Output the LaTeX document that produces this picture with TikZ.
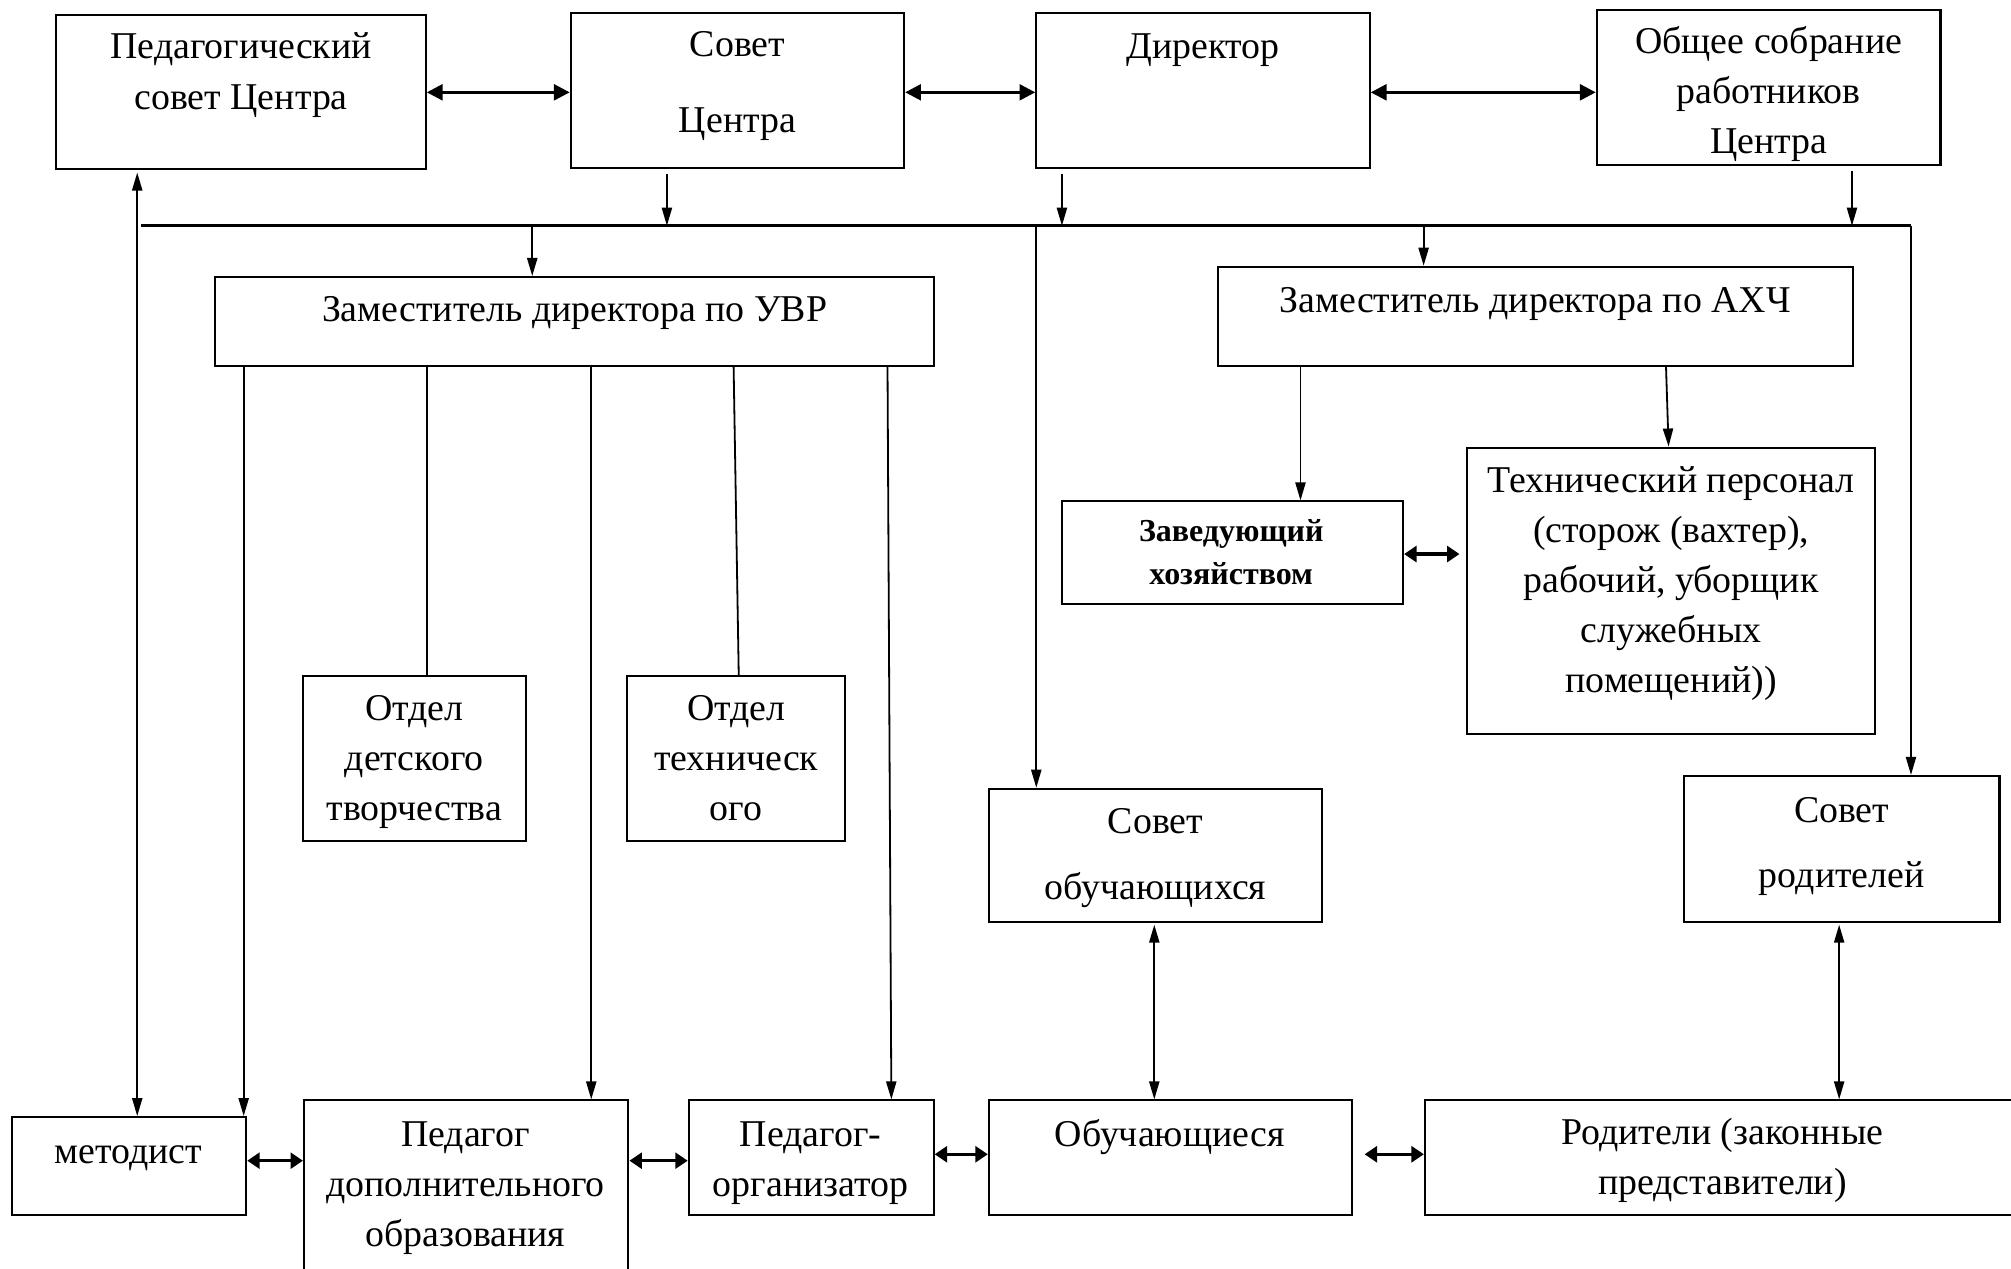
\documentclass[tikz,border=0pt]{standalone}
\usepackage{fontspec}
\setmainfont{Liberation Serif}
\usetikzlibrary{arrows.meta,fit}
\begin{document}
\begin{tikzpicture}[x=0.02cm,y=-0.02cm,
  box/.style={draw,line width=0.9pt,inner sep=0pt},
  txt/.style={anchor=base,align=center,inner sep=0pt,font=\fontsize{16.8}{22.2}\selectfont},
  btxt/.style={anchor=base,align=center,inner sep=0pt,font=\fontsize{14.2}{19.4}\selectfont\bfseries},
  arr/.style={line width=0.8pt,-{Triangle[length=8pt,width=4.5pt]}},
  varr/.style={line width=0.8pt,{Triangle[length=8pt,width=4.5pt]}-{Triangle[length=8pt,width=4.5pt]}},
  thk/.style={line width=1.3pt,{Triangle[length=7pt,width=7pt]}-{Triangle[length=7pt,width=7pt]}},
  sdb/.style={line width=1.5pt,{Triangle[length=5.5pt,width=7pt]}-{Triangle[length=5.5pt,width=7pt]}},
  ln/.style={line width=0.8pt}]
\useasboundingbox (0,0) rectangle (1568,989);
\clip (0,0) rectangle (1568,989);
\newcommand{\mkbox}[5]{\path (#2,#3) coordinate (#1-nw) (#4,#5) coordinate (#1-se);
  \node[box,fit=(#1-nw)(#1-se)] (#1) {};}
% boxes
\mkbox{ped}{44}{12}{332}{132}
\mkbox{sovet}{445}{10}{705}{131}
\mkbox{dir}{808}{10}{1068}{131}
\mkbox{obsh}{1245}{8}{1513}{129}
\mkbox{uvr}{168}{216}{728}{285}
\mkbox{ahch}{950}{208}{1445}{285}
\mkbox{zav}{828}{391}{1094}{471}
\mkbox{tech}{1144}{349}{1462}{572}
\mkbox{otd1}{236}{527}{410}{656}
\mkbox{otd2}{489}{527}{659}{656}
\mkbox{sobuch}{771}{615}{1031}{719}
\mkbox{srod}{1313}{605}{1559}{719}
\mkbox{metod}{9}{871}{192}{947}
\mkbox{peddop}{237}{858}{490}{1000}
\mkbox{pedorg}{537}{858}{728}{947}
\mkbox{obuch}{771}{858}{1054}{947}
\mkbox{rod}{1111}{858}{1580}{947}
% texts (anchor at the baseline of the last line)
\node[txt] (t-ped) at (188,85) {Педагогический\\совет Центра};
\node[txt] (t-sovet) at (575,103) {Совет\\[11.4pt]Центра};
\node[txt] (t-dir) at (938,46) {Директор};
\node[txt] (t-obsh) at (1379,120) {Общее собрание\\работников\\Центра};
\node[txt] (t-uvr) at (448,251) {Заместитель директора по УВР};
\node[txt] (t-ahch) at (1197,244) {Заместитель директора по АХЧ};
\node[btxt] (t-zav) at (960,456) {Заведующий\\хозяйством};
\node[txt] (t-tech) at (1303,540) {Технический персонал\\(сторож (вахтер),\\рабочий, уборщик\\служебных\\помещений))};
\node[txt] (t-otd1) at (323,640) {Отдел\\детского\\творчества};
\node[txt] (t-otd2) at (574,640) {Отдел\\техническ\\ого};
\node[txt] (t-sobuch) at (901,701) {Совет\\[6.7pt]обучающихся};
\node[txt] (t-srod) at (1436,692) {Совет\\[6.7pt]родителей};
\node[txt] (t-metod) at (100,907) {методист};
\node[txt] (t-peddop) at (363,972) {Педагог\\дополнительного\\образования};
\node[txt] (t-pedorg) at (632,933) {Педагог-\\организатор};
\node[txt] (t-obuch) at (912,894) {Обучающиеся};
\node[txt] (t-rod) at (1343,931) {Родители (законные\\представители)};
% bus coordinates
\coordinate (busL) at (110,176);
\coordinate (busR) at (1490,176);
\coordinate (c-sov) at (520,176);
\coordinate (c-dir) at (828,176);
\coordinate (c-obsh) at (1444,176);
\coordinate (c-uvr) at (415,176);
\coordinate (c-ahch) at (1110,176);
\coordinate (c-sob) at (808,176);
\coordinate (c-left) at (107,0);
% top horizontal double arrows
\draw[thk] (ped.east |- 0,72) -- (sovet.west |- 0,72);
\draw[thk] (sovet.east |- 0,72) -- (dir.west |- 0,72);
\draw[thk] (dir.east |- 0,72) -- (obsh.west |- 0,72);
% down to bus
\draw[arr] ([yshift=-2pt]c-sov |- sovet.south) -- (c-sov);
\draw[arr] ([yshift=-2pt]c-dir |- dir.south) -- (c-dir);
\draw[arr] ([yshift=-2pt]c-obsh |- obsh.south) -- (c-obsh);
\draw[line width=1.1pt] (busL) -- (busR);
% from bus
\draw[arr] (c-uvr) -- (c-uvr |- uvr.north);
\draw[arr] (c-ahch) -- (c-ahch |- ahch.north);
\draw[arr] (c-sob) -- (c-sob |- sobuch.north);
\draw[arr] (busR) -- (busR |- srod.north);
% left long double arrow
\draw[varr] ([yshift=-1pt]c-left |- ped.south) -- (c-left |- metod.north);
% from UVR
\draw[arr] (190,0 |- uvr.south) -- (190,0 |- metod.north);
\draw[ln] (333,0 |- uvr.south) -- (333,0 |- otd1.north);
\draw[arr] (461,0 |- uvr.south) -- (461,0 |- peddop.north);
\draw[ln] (572,0 |- uvr.south) -- (576,0 |- otd2.north);
\draw[arr] (692,0 |- uvr.south) -- (695,0 |- pedorg.north);
% from AHCH
\draw[arr] (1014,0 |- ahch.south) -- (1014,0 |- zav.north);
\draw[arr] (1299,0 |- ahch.south) -- (1301,0 |- tech.north);
% zav <-> tech
\draw[sdb] (zav.east |- 0,432) -- (1138,432);
% vertical double arrows
\draw[varr] (900,721) -- (900,0 |- obuch.north);
\draw[varr] (1434,721) -- (1434,0 |- rod.north);
% bottom double arrows
\draw[sdb] (metod.east |- 0,905) -- (peddop.west |- 0,905);
\draw[sdb] (peddop.east |- 0,905) -- (pedorg.west |- 0,905);
\draw[sdb] (pedorg.east |- 0,900) -- (obuch.west |- 0,900);
\draw[sdb] (1064,900) -- (rod.west |- 0,900);
\end{tikzpicture}
\end{document}
